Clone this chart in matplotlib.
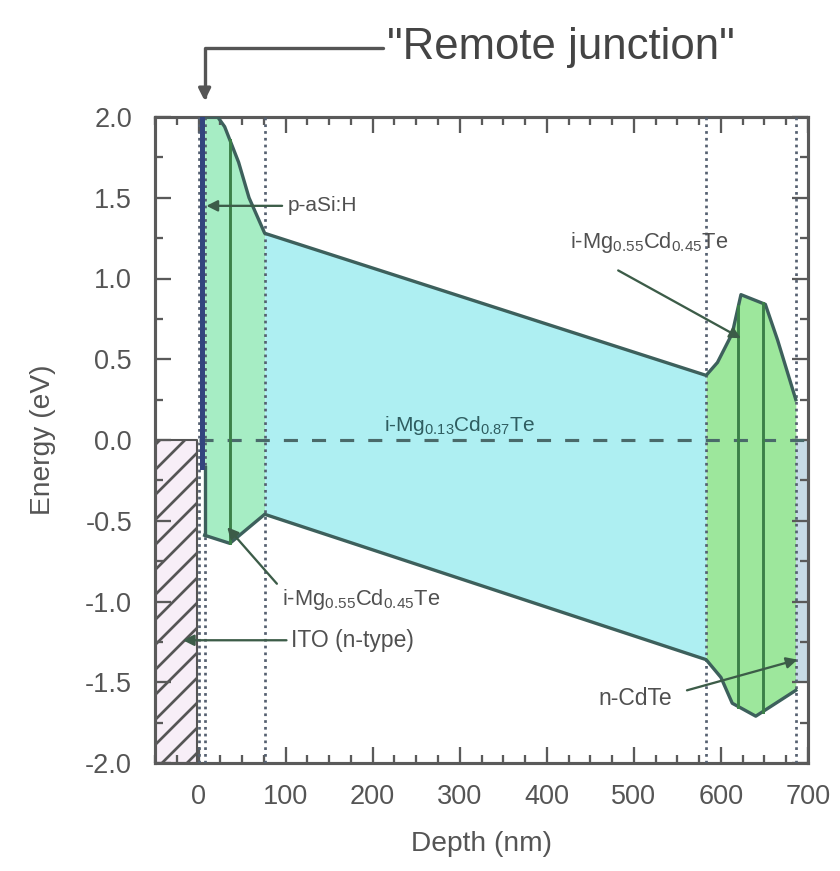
import matplotlib
matplotlib.use("Agg")
import matplotlib.pyplot as plt
import numpy as np
from matplotlib.ticker import MultipleLocator

plt.rcParams['font.family'] = ['Liberation Sans', 'DejaVu Sans']
plt.rcParams['mathtext.fontset'] = 'custom'
plt.rcParams['mathtext.rm'] = 'Liberation Sans'
plt.rcParams['mathtext.it'] = 'Liberation Sans:italic'
plt.rcParams['axes.unicode_minus'] = False
plt.rcParams['hatch.linewidth'] = 1.3

# band edges (depth in nm, energy in eV)
cb_depth = [7, 22, 30, 46, 58, 76, 583, 596, 613, 623, 651, 665, 686]
cb_energy = [2.0, 2.0, 1.94, 1.72, 1.50, 1.28, 0.40, 0.48, 0.66, 0.90, 0.84, 0.62, 0.25]
vb_depth = [7, 36, 76, 583, 600, 613, 640, 686]
vb_energy = [-0.59, -0.64, -0.46, -1.36, -1.47, -1.63, -1.71, -1.55]

# layers
layer_edges = [7, 76, 583, 686]
layer_colors = ['#a6edc4', '#aeeff2', '#9de79c']
interfaces = [36, 620, 648]
dotted_lines = [0, 8, 76, 583, 686]

ito_depth = [-50, -2]
ito_energy = [-2.0, 0.0]
back_depth = [686, 700]
back_energy = [-1.5, 0.0]
pasi_depth = 4
pasi_energy = [-0.17, 2.0]
fermi_depth = [0, 700]

x_ticks = [0, 100, 200, 300, 400, 500, 600, 700]
y_ticks = [-2.0, -1.5, -1.0, -0.5, 0.0, 0.5, 1.0, 1.5, 2.0]

# (text, text pos, arrow tail, arrow tip, ha, size)
labels = [
    ('p-aSi:H', (102, 1.45), (96, 1.45), (9, 1.45), 'left', 10),
    (r'i-Mg$_{0.55}$Cd$_{0.45}$Te', (518, 1.22), (482, 1.05), (623, 0.63), 'center', 10.5),
    (r'i-Mg$_{0.55}$Cd$_{0.45}$Te', (96, -0.99), (90, -0.89), (33, -0.54), 'left', 10.5),
    ('ITO (n-type)', (106, -1.24), (101, -1.24), (-18, -1.24), 'left', 11),
    ('n-CdTe', (459, -1.60), (561, -1.55), (688, -1.36), 'left', 11),
]
mid_label = r'i-Mg$_{0.13}$Cd$_{0.87}$Te'
mid_pos = (300, 0.09)
remote_text = '"Remote junction"'
remote_tail = (212, 2.43)
remote_tip = (7, 2.10)

line_col = '#3d605c'
text_col = '#505050'


def main():
    fig = plt.figure(figsize=(840 / 150, 871 / 150), dpi=150)
    ax = fig.add_axes([155 / 840, 1 - 763 / 871, 653 / 840, 646 / 871])

    # fills between the band edges
    grid = np.union1d(cb_depth, vb_depth)
    top = np.interp(grid, cb_depth, cb_energy)
    bot = np.interp(grid, vb_depth, vb_energy)
    for i, col in enumerate(layer_colors):
        mask = (grid >= layer_edges[i]) & (grid <= layer_edges[i + 1])
        ax.fill_between(grid, bot, top, where=mask, color=col, lw=0, zorder=1)

    # ITO (hatched) and back contact
    ax.fill_between(ito_depth, ito_energy[0], ito_energy[1], facecolor='#f7eef7',
                    edgecolor='#555555', hatch='//', lw=1.0, zorder=1)
    ax.fill_between(back_depth, back_energy[0], back_energy[1], color='#c7dbe6',
                    lw=0, zorder=1)

    for x in dotted_lines:
        ax.axvline(x, color='#556070', ls=(0, (1, 1.5)), lw=1.3, zorder=3)

    ax.plot(fermi_depth, [0, 0], color='#4a6a6a', lw=1.5, dashes=(4.5, 4.5), zorder=3)

    # band edges
    ax.plot(cb_depth, cb_energy, color=line_col, lw=1.6, zorder=4)
    ax.plot(vb_depth, vb_energy, color=line_col, lw=1.6, zorder=4)
    ax.plot([vb_depth[0], vb_depth[0]], [vb_energy[0], pasi_energy[0]], color=line_col,
            lw=1.6, zorder=4)
    ax.plot([pasi_depth, pasi_depth], pasi_energy, color='#33457e', lw=2.4, zorder=4)
    for x in interfaces:
        ax.plot([x, x], [np.interp(x, vb_depth, vb_energy), np.interp(x, cb_depth, cb_energy)],
                color='#3b8048', lw=1.4, zorder=4)

    # annotations
    for txt, pos, tail, tip, ha, size in labels:
        ax.text(pos[0], pos[1], txt, ha=ha, va='center', fontsize=size, color=text_col,
                zorder=6)
        ax.annotate('', xy=tip, xytext=tail,
                    arrowprops=dict(arrowstyle='-|>', color='#3c5c48', lw=1.1,
                                    mutation_scale=11, shrinkA=0, shrinkB=0), zorder=6)
    ax.text(mid_pos[0], mid_pos[1], mid_label, ha='center', va='center', fontsize=10,
            color='#2f5d60', zorder=6)

    ax.annotate('', xy=remote_tip, xytext=remote_tail, annotation_clip=False,
                arrowprops=dict(arrowstyle='-|>', color='#555555', lw=1.6,
                                mutation_scale=12, shrinkA=0, shrinkB=0,
                                connectionstyle='angle,angleA=0,angleB=90,rad=0'))
    ax.text(remote_tail[0] + 4, remote_tail[1], remote_text, ha='left', va='center',
            fontsize=21, color='#444444', clip_on=False)

    # axes styling
    ax.set_xlim(-50, 700)
    ax.set_ylim(-2, 2)
    ax.set_xticks(x_ticks)
    ax.set_yticks(y_ticks)
    ax.set_yticklabels(['%.1f' % v for v in y_ticks])
    ax.xaxis.set_minor_locator(MultipleLocator(25))
    ax.yaxis.set_minor_locator(MultipleLocator(0.25))
    ax.tick_params(which='both', direction='in', top=True, right=True, colors='#5a5a5a',
                   labelcolor='#555555', labelsize=13, width=1.1)
    ax.tick_params(which='major', length=7.5)
    ax.tick_params(which='minor', length=4)
    ax.tick_params(axis='x', pad=10)
    ax.tick_params(axis='y', pad=11)
    for s in ax.spines.values():
        s.set_color('#5a5a5a')
        s.set_linewidth(1.5)
    ax.set_xlabel('Depth (nm)', fontsize=13.5, color='#555555', labelpad=10)
    ax.set_ylabel('Energy (eV)', fontsize=13.5, color='#555555', labelpad=14)

    fig.savefig('out.png', dpi=150)


if __name__ == "__main__":
    main()
